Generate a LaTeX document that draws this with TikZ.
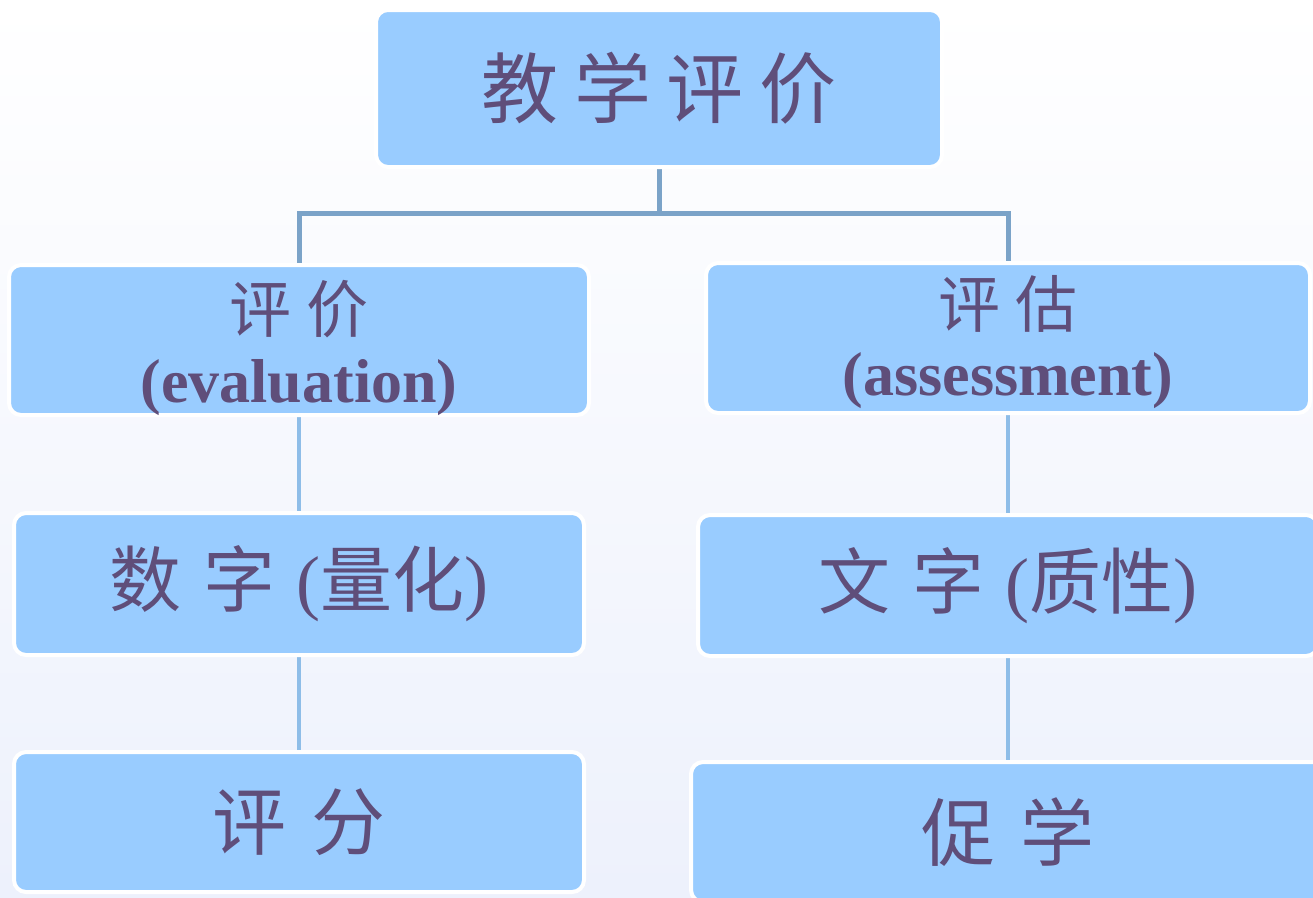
\documentclass[tikz,border=0pt]{standalone}
\usepackage{fontspec}
\setmainfont{Liberation Serif}
\newfontfamily\cjk{Noto Sans CJK SC}
\usetikzlibrary{backgrounds}
\definecolor{boxfill}{HTML}{99CCFF}
\definecolor{txt}{HTML}{5F4E7A}
\definecolor{connA}{HTML}{7BA3C8}
\definecolor{connB}{HTML}{8EBDE8}
\definecolor{bgbot}{HTML}{EDF1FC}
\newcommand\cg[1]{\hspace{#1em}}
\begin{document}
\begin{tikzpicture}[x=1pt,y=-1pt,
  box/.style={rectangle, rounded corners=12pt, fill=boxfill, draw=white, line width=4pt,
    text=txt, align=center, inner sep=0pt},
  connup/.style={draw=connA, line width=5pt},
  conndown/.style={draw=connB, line width=4pt}]
\useasboundingbox (0,0) rectangle (1313,897);
\clip (0,0) rectangle (1313,897);

% nodes
\node[box, minimum width=566pt, minimum height=157pt, font=\cjk\fontsize{77}{80}\selectfont] (top) at (659,88.5)
  {教\cg{0.2}学\cg{0.2}评\cg{0.2}价};
\node[box, minimum width=580pt, minimum height=150pt, font=\fontsize{62}{70}\selectfont] (l2) at (299,340)
  {\raisebox{-12pt}[\height][\depth]{\begin{tabular}{@{}c@{}}{\cjk 评\cg{0.24}价}\\\textbf{(evaluation)}\end{tabular}}};
\node[box, minimum width=604pt, minimum height=150pt, font=\fontsize{62}{68}\selectfont] (r2) at (1008,338)
  {\raisebox{-8pt}[\height][\depth]{\begin{tabular}{@{}c@{}}{\cjk 评\cg{0.24}估}\\\textbf{(assessment)}\end{tabular}}};
\node[box, minimum width=570pt, minimum height=142pt, font=\fontsize{72}{80}\selectfont] (l3) at (299,584)
  {{\cjk 数\cg{0.3}字\cg{0.3}}({\cjk 量化})};
\node[box, minimum width=620pt, minimum height=141pt, font=\fontsize{72}{80}\selectfont] (r3) at (1008,585.5)
  {{\cjk 文\cg{0.3}字\cg{0.3}}({\cjk 质性})};
\node[box, minimum width=570pt, minimum height=140pt, font=\cjk\fontsize{74}{80}\selectfont] (l4) at (299,822)
  {评\cg{0.33}分};
\node[box, minimum width=634pt, minimum height=140pt, font=\cjk\fontsize{74}{80}\selectfont] (r4) at (1008,832)
  {促\cg{0.33}学};

% connectors
\coordinate (hub) at (659,213);
\begin{scope}[on background layer]
\shade[top color=white, bottom color=bgbot] (0,0) rectangle (1313,897);
\draw[connup] (top.south) -- (hub);
\draw[connup] (hub) -| (l2.north);
\draw[connup] (hub) -| (r2.north);
\draw[conndown] (l2.south) -- (l3.north);
\draw[conndown] (l3.south) -- (l4.north);
\draw[conndown] (r2.south) -- (r3.north);
\draw[conndown] (r3.south) -- (r4.north);
\end{scope}
\end{tikzpicture}
\end{document}
